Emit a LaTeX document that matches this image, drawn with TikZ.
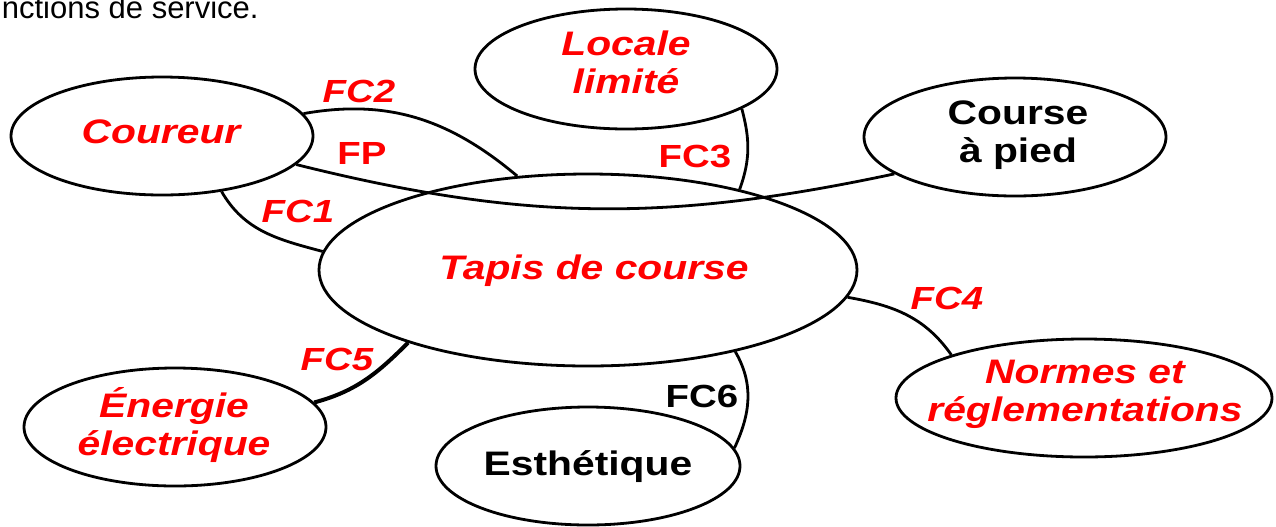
\documentclass[tikz,border=0pt]{standalone}
\usepackage{fontspec}
\setmainfont{Liberation Sans}[FakeStretch=1.2]
\newfontfamily\simple{Liberation Sans}
\usetikzlibrary{shapes.geometric}

\begin{document}
\begin{tikzpicture}[x={(0.5pt,0)},y={(0,-0.5pt)},line join=round,
	bulle/.style={draw,ellipse,line width=1.4pt,inner sep=0pt,minimum width=151pt,minimum height=59pt},
	noir/.style={font=\fontsize{17}{19}\selectfont\bfseries,align=center,inner sep=0pt},
	rouge/.style={noir,text=red,font=\fontsize{17}{19}\selectfont\bfseries\itshape},
	fc/.style={font=\fontsize{16}{18}\selectfont\bfseries,inner sep=0pt},
	fcit/.style={fc,text=red,font=\fontsize{16}{18}\selectfont\bfseries\itshape},
	lien/.style={line width=1.4pt}]
	\useasboundingbox (0,0) rectangle (1276,526) ;
	\node[anchor=base east,inner sep=0pt,font=\simple\fontsize{15.5}{18}\selectfont] (titre) at (259,18) {nctions de service.} ;
	% les bulles
	\node[bulle] (C) at (162,136) {} ; \node[rouge] (tC) at (161,132) {Coureur} ;
	\node[bulle,minimum height=60pt] (L) at (626,69) {} ; \node[rouge] (tL) at (626,62) {Locale\\limité} ;
	\node[bulle] (P) at (1015,137) {} ; \node[noir] (tP) at (1018,135) {Course\\à pied} ;
	\node[bulle,minimum width=269pt,minimum height=96pt] (T) at (588,270) {} ; \node[rouge] (tT) at (594,271) {Tapis de course} ;
	\node[bulle] (E) at (175,427) {} ; \node[rouge] (tE) at (174,425) {Énergie\\électrique} ;
	\node[bulle,minimum width=152pt] (S) at (588,466) {} ; \node[noir] (tS) at (588,467) {Esthétique} ;
	\node[bulle,minimum width=188pt] (N) at (1084,398) {} ; \node[rouge] (tN) at (1085,394) {Normes et\\réglementations} ;
	% les fonctions
	\draw[lien] (C.9) to[out=10,in=140] (T.127) ;
	\draw[lien] (C.-12) to[out=-14,in=192] (P.197) ;
	\draw[lien] (C.-43) to[out=-60,in=165] (T.176) ;
	\draw[lien] (L.-19) to[out=-75,in=70] (T.28) ;
	\draw[lien] (T.-6) to[out=-10,in=125] (N.162) ;
	\draw[lien,line width=2pt] (T.202) to[out=225,in=15] (E.10) ;
	\draw[lien] (T.-29) to[out=-60,in=65] (S.7) ;
	\node[fcit] (fc2) at (359,91) {FC2} ;
	\node[fc,text=red] (fp) at (362,153) {FP} ;
	\node[fcit] (fc1) at (298,211) {FC1} ;
	\node[fc,text=red] (fc3) at (695,157) {FC3} ;
	\node[fcit] (fc4) at (947,298) {FC4} ;
	\node[fcit] (fc5) at (337,359) {FC5} ;
	\node[fc] (fc6) at (702,396) {FC6} ;
\end{tikzpicture}
\end{document}
